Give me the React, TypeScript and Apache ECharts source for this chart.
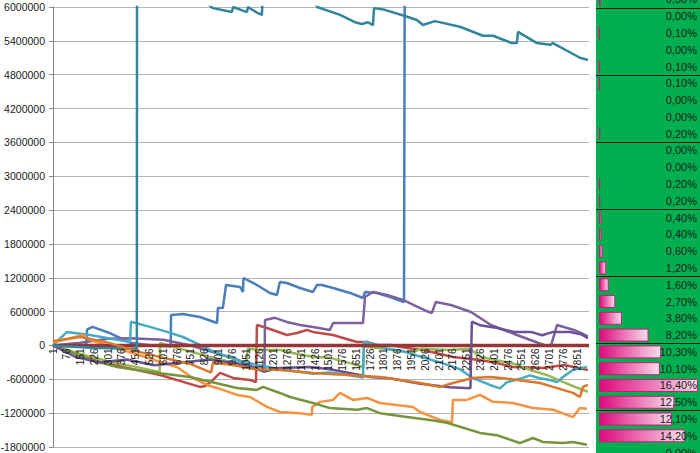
import React, { useEffect, useRef } from 'react';
import * as echarts from 'echarts';

const FONT = 'Liberation Sans, Arial, sans-serif';

// Y axis scale
const yMin = -1800000;
const yMax = 6000000;
const yStep = 600000;
// X axis: trade index (label = index + 1), a label every 75
const xLabelStep = 75;
const xMax = 2915;

// plot box of the line chart
const plotTop = 7;
const plotBottom = 6;
const plotHeight = 453 - plotTop - plotBottom;

type P = [number, number];

const blue: P[] = [[0,0],[180,-20000],[185,280000],[215,330000],[300,230000],[420,50000],[520,10000],[640,-20000],[642,541000],[707,558000],[799,505000],[892,399000],[897,665000],[924,665000],[941,1072000],[1017,1037000],[1033,948000],[1036,1196000],[1109,1072000],[1180,931000],[1218,895000],[1234,1126000],[1272,1108000],[1343,1019000],[1414,948000],[1436,1072000],[1463,1072000],[1523,1019000],[1615,931000],[1686,842000],[1697,948000],[1762,931000],[1833,860000],[1909,771000],[1914,8200000],[2909,7600000]];

const red: P[] = [[0,0],[256,-292000],[582,-523000],[799,-735000],[830,-720000],[870,-612000],[908,-487000],[979,-576000],[1071,-612000],[1104,-647000],[1109,363000],[1164,310000],[1272,186000],[1327,221000],[1381,275000],[1414,240000],[1523,186000],[1615,97000],[1653,62000],[1708,62000],[1762,9000],[1833,9000],[1925,-44000],[2012,-80000],[2175,-204000],[2322,-257000],[2414,-310000],[2501,-381000],[2664,-399000],[2780,-346000],[2909,-434000]];

const green: P[] = [[0,0],[150,-150000],[300,-280000],[450,-380000],[580,-470000],[582,44000],[650,-20000],[750,-110000],[850,-200000],[950,-280000],[1050,-340000],[1060,-60000],[1150,-80000],[1234,-80000],[1330,-150000],[1414,-200000],[1506,-220000],[1600,-300000],[1686,-381000],[1691,-20000],[1800,-60000],[1950,-130000],[2000,-60000],[2150,-80000],[2268,-60000],[2322,-200000],[2501,-320000],[2594,-434000],[2686,-523000],[2773,-647000],[2850,-750000],[2909,-820000]];

const purple: P[] = [[0,0],[150,50000],[300,120000],[420,130000],[600,100000],[750,0],[900,-150000],[1000,-250000],[1150,-470000],[1153,450000],[1207,490000],[1272,417000],[1343,363000],[1414,328000],[1506,275000],[1523,400000],[1615,400000],[1686,400000],[1697,860000],[1740,948000],[1817,895000],[1903,806000],[2017,629000],[2060,576000],[2082,771000],[2164,718000],[2273,594000],[2382,363000],[2523,186000],[2670,9000],[2708,-9000],[2741,363000],[2833,275000],[2871,221000],[2909,160000]];

const aqua: P[] = [[0,0],[76,240000],[201,186000],[419,62000],[424,420000],[527,330000],[620,240000],[707,150000],[799,9000],[854,-80000],[924,-169000],[1000,-257000],[1109,-346000],[1200,-400000],[1300,-450000],[1414,-500000],[1500,-480000],[1600,-520000],[1686,-570000],[1691,62000],[1740,30000],[1817,-60000],[1900,-100000],[2000,-200000],[2104,-300000],[2213,-420000],[2284,-580000],[2376,-700000],[2431,-760000],[2469,-650000],[2551,-580000],[2594,-530000],[2648,-580000],[2703,-612000],[2741,-650000],[2773,-560000],[2828,-434000],[2904,-380000]];

const orange: P[] = [[0,50000],[163,186000],[200,100000],[348,-60000],[435,-133000],[582,-292000],[674,-381000],[761,-576000],[837,-700000],[892,-753000],[1000,-877000],[1071,-913000],[1164,-1090000],[1234,-1180000],[1343,-1200000],[1408,-1230000],[1410,-1090000],[1452,-1000000],[1523,-966000],[1561,-842000],[1631,-966000],[1708,-930000],[1778,-1020000],[1958,-1090000],[1996,-1180000],[2104,-1320000],[2170,-1360000],[2175,-966000],[2251,-966000],[2322,-877000],[2393,-1000000],[2501,-1020000],[2610,-1110000],[2719,-1140000],[2828,-1270000],[2866,-1110000],[2904,-1120000]];

const darkRed: P[] = [[0,0],[2915,0]];

const olive: P[] = [[0,0],[100,-120000],[200,-250000],[348,-381000],[527,-470000],[745,-558000],[1000,-753000],[1109,-789000],[1142,-735000],[1234,-842000],[1289,-913000],[1414,-1020000],[1506,-1110000],[1653,-1140000],[1708,-1110000],[1778,-1200000],[1925,-1270000],[2050,-1320000],[2142,-1370000],[2322,-1550000],[2414,-1590000],[2539,-1730000],[2610,-1640000],[2664,-1710000],[2773,-1730000],[2828,-1710000],[2904,-1760000]];

const darkPurple: P[] = [[0,0],[120,-200000],[250,-300000],[400,-250000],[550,-350000],[700,-300000],[850,-250000],[1000,-320000],[1150,-460000],[1234,-400000],[1398,-380000],[1506,-420000],[1724,-560000],[1833,-580000],[1996,-680000],[2159,-740000],[2270,-760000],[2278,420000],[2322,360000],[2417,310000],[2507,240000],[2600,240000],[2660,180000],[2720,240000],[2811,240000],[2871,200000],[2909,130000]];

const teal: P[] = [[0,0],[200,-40000],[456,-60000],[457,7400000],[700,6600000],[860,6000000],[870,5980000],[973,5910000],[979,6000000],[1055,5910000],[1060,6000000],[1115,5890000],[1136,5860000],[1142,6300000],[1420,6150000],[1436,6000000],[1561,5860000],[1642,5730000],[1680,5700000],[1713,5730000],[1740,5680000],[1746,5980000],[1805,5950000],[1914,5840000],[1979,5770000],[2012,5680000],[2077,5750000],[2213,5650000],[2338,5490000],[2393,5490000],[2496,5360000],[2523,5360000],[2529,5560000],[2632,5360000],[2703,5330000],[2719,5360000],[2866,5100000],[2909,5060000]];

const darkOrange: P[] = [[0,80000],[150,150000],[300,50000],[450,-100000],[600,-220000],[750,-330000],[860,-480000],[870,-300000],[1000,-360000],[1100,-420000],[1234,-434000],[1414,-490000],[1599,-523000],[1778,-558000],[1996,-665000],[2104,-735000],[2175,-665000],[2284,-576000],[2376,-558000],[2450,-580000],[2648,-665000],[2719,-735000],[2828,-840000],[2866,-913000],[2882,-735000],[2909,-700000]];

const seriesNames = ['S1','S2','S3','S4','S5','S6','S7','S8','S9','S10','S11'];
const seriesData = [blue, red, green, purple, aqua, orange, darkRed, olive, darkPurple, teal, darkOrange];
const seriesColors = ['#4A7EBB','#BE4B48','#98B954','#7D60A0','#46AAC5','#F69240','#953735','#77933C','#6A5294','#31859C','#D9772B'];
const seriesWidths = [2.5,2.5,2.5,2.5,2.5,2.5,3.5,2.5,2.5,2.5,2.5];

// Right panel: share per row (percent)
const sharePct = [0.3,0,0.1,0,0.1,0.1,0,0,0.2,0,0,0.2,0.2,0.4,0.4,0.6,1.2,1.6,2.7,3.8,8.2,10.3,10.1,16.4,12.5,12.1,14.2,0];
const rowIds = sharePct.map((_, i) => String(i));
const pctText = (v: number) => v.toFixed(2).replace('.', ',') + '%';

export default function App() {
  const ref = useRef<HTMLDivElement>(null);
  useEffect(() => {
    if (!ref.current) return;
    const chart = echarts.init(ref.current, undefined, { renderer: 'svg' });
    const barGrad = new echarts.graphic.LinearGradient(0, 0, 1, 0, [
      { offset: 0, color: '#DD0A7C' },
      { offset: 1, color: '#FADDEC' },
    ]);
    // the category axis sits on the value 0 of the y scale
    const zeroOffset = -plotHeight * (0 - yMin) / (yMax - yMin);
    chart.setOption({
      animation: false,
      backgroundColor: '#ffffff',
      textStyle: { fontFamily: FONT },
      grid: [
        { left: 53, right: 111, top: plotTop, bottom: plotBottom, containLabel: false, outerBoundsMode: 'none' },
        { left: 596, right: 0, top: -9, bottom: -8, show: true, backgroundColor: '#00B050', borderWidth: 0, containLabel: false, outerBoundsMode: 'none' },
      ],
      xAxis: [
        {
          type: 'value', gridIndex: 0, min: 0, max: xMax, interval: xLabelStep, z: 5,
          position: 'bottom', offset: zeroOffset,
          axisLine: { show: false, onZero: false },
          axisTick: { show: false },
          splitLine: { show: false },
          axisLabel: {
            rotate: 90, fontSize: 10, color: '#1a1a1a', margin: 3, fontFamily: FONT,
            showMaxLabel: false,
            formatter: (v: number) => (v % xLabelStep === 0 ? String(v + 1) : ''),
          },
        },
        { type: 'value', gridIndex: 1, min: -0.5, max: 16.73, show: false },
      ],
      yAxis: [
        {
          type: 'value', gridIndex: 0, min: yMin, max: yMax, interval: yStep,
          axisLine: { show: true, onZero: false, lineStyle: { color: '#868686', width: 1 } },
          axisTick: { show: true, length: 4, lineStyle: { color: '#868686' } },
          axisLabel: { fontSize: 10.5, color: '#1a1a1a', margin: 8, fontFamily: FONT, formatter: (v: number) => String(v) },
          splitLine: { show: true, lineStyle: { color: '#B4B4B4', width: 1 } },
        },
        {
          type: 'category', gridIndex: 1, inverse: true, data: rowIds, position: 'right', z: 10,
          axisLine: { show: false }, axisTick: { show: false },
          axisLabel: {
            inside: true, margin: 3, interval: 0, fontSize: 11, color: '#1a1a1a', fontFamily: FONT,
            formatter: (_v: string, i: number) => pctText(sharePct[i]),
          },
          splitLine: { show: true, interval: (i: number) => i % 4 === 1, lineStyle: { color: '#0d1a10', width: 1.2 } },
        },
      ],
      series: [
        ...seriesData.map((d, i) => ({
          name: seriesNames[i], type: 'line', xAxisIndex: 0, yAxisIndex: 0, data: d,
          symbol: 'none', showSymbol: false, clip: true, color: seriesColors[i],
          lineStyle: { width: seriesWidths[i], color: seriesColors[i] },
        })),
        {
          name: 'share', type: 'bar', xAxisIndex: 1, yAxisIndex: 1, barWidth: 13,
          data: sharePct.map((v) => (v === 0 ? { value: 0, itemStyle: { opacity: 0, borderWidth: 0 } } : v)),
          itemStyle: { color: barGrad, borderColor: '#D3157C', borderWidth: 1 },
          z: 3,
        },
      ],
    });
    return () => chart.dispose();
  }, []);
  return (
    <div style={{ position: 'fixed', left: 0, top: 0, width: 700, height: 453, background: '#fff' }}>
      <div ref={ref} style={{ width: 700, height: 453 }} />
    </div>
  );
}
